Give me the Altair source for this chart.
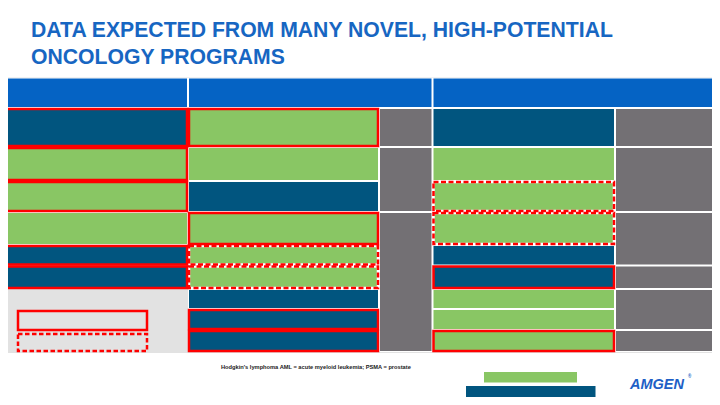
import altair as alt
import pandas as pd

# ---------------- data ----------------
title_lines = ["DATA EXPECTED FROM MANY NOVEL, HIGH-POTENTIAL", "ONCOLOGY PROGRAMS"]
footnote = "Hodgkin's lymphoma AML = acute myeloid leukemia; PSMA = prostate"
logo_text = "AMGEN"
logo_mark = "®"

header_cols = ["H1", "H2", "H3"]

# table cells: column, first row, last row, fill kind, outline kind
cell_col = ["A", "A", "A", "A", "A", "A",
            "B", "B", "B", "B", "B", "B", "B", "B", "B",
            "C", "C", "C",
            "D", "D", "D", "D", "D", "D", "D", "D", "D",
            "E", "E", "E", "E", "E", "E"]
cell_r0 = [0, 1, 2, 3, 4, 5,
           0, 1, 2, 3, 4, 5, 6, 7, 8,
           0, 1, 3,
           0, 1, 2, 3, 4, 5, 6, 7, 8,
           0, 1, 3, 5, 6, 8]
cell_r1 = [0, 1, 2, 3, 4, 5,
           0, 1, 2, 3, 4, 5, 6, 7, 8,
           0, 2, 8,
           0, 1, 2, 3, 4, 5, 6, 7, 8,
           0, 2, 4, 5, 7, 8]
cell_kind = ["dark", "green", "green", "green", "dark", "dark",
             "green", "green", "dark", "green", "green", "green", "dark", "dark", "dark",
             "gray", "gray", "gray",
             "dark", "green", "green", "green", "dark", "dark", "green", "green", "green",
             "gray", "gray", "gray", "gray", "gray", "gray"]
cell_line = ["solid", "solid", "solid", "none", "solid", "solid",
             "solid", "none", "none", "solid", "dashed", "dashed", "none", "solid", "solid",
             "none", "none", "none",
             "none", "none", "dashed", "dashed", "none", "solid", "none", "none", "solid",
             "none", "none", "none", "none", "none", "none"]

legend_box_line = ["solid", "dashed"]
legend_bar_kind = ["green", "dark"]

# ---------------- layout (positions / styles) ----------------
COL_EDGES = {"A": (3, 188), "B": (188, 379), "C": (379, 432.5),
             "D": (432.5, 615), "E": (615, 716)}
ROW_EDGES = [108, 147, 181, 212, 245, 265.5, 289, 309, 330, 352]
HEADER_EDGES = {"H1": (3, 188), "H2": (188, 432.5), "H3": (432.5, 716)}
HEADER_Y = (77.5, 108)
LEGEND_BOX_Y = [(311, 330), (334, 351)]
LEGEND_BOX_X = (18, 147)
LEGEND_BAR = {"green": ((484, 577), (372, 382.5)), "dark": ((466, 595.5), (386, 397))}
INSET = 1

COLORS = {"dark": "#01557F", "green": "#89C664", "gray": "#737074",
          "header": "#0563C4", "light": "#E2E2E2", "white": "#FFFFFF"}
RED = "#FF0000"
TITLE_BLUE = "#1766C2"

# the page has an 8px margin; the chart spans screen x 8..712, y 8..397
X0, X1, Y0, Y1 = 8, 712, 8, 397
W, H = X1 - X0, Y1 - Y0
xs = alt.X("x:Q", scale=alt.Scale(domain=[X0, X1], nice=False, zero=False), axis=None)
ys = alt.Y("y:Q", scale=alt.Scale(domain=[Y0, Y1], nice=False, zero=False, reverse=True), axis=None)
fill_scale = alt.Scale(domain=list(COLORS.keys()), range=list(COLORS.values()))

# background blocks
bg = pd.DataFrame([
    {"x": 0, "x2": 720, "y": 77, "y2": 353, "kind": "light"},
    {"x": 3, "x2": 716, "y": 77.5, "y2": 289, "kind": "white"},
    {"x": 188, "x2": 716, "y": 289, "y2": 352, "kind": "white"},
])

hdr = pd.DataFrame([
    {"x": HEADER_EDGES[h][0] + INSET, "x2": HEADER_EDGES[h][1] - INSET,
     "y": HEADER_Y[0] + INSET, "y2": HEADER_Y[1] - INSET, "kind": "header"}
    for h in header_cols
])

cells = pd.DataFrame([
    {"x": COL_EDGES[c][0] + INSET, "x2": COL_EDGES[c][1] - INSET,
     "y": ROW_EDGES[r0] + INSET, "y2": ROW_EDGES[r1 + 1] - INSET,
     "kind": k, "line": ln}
    for c, r0, r1, k, ln in zip(cell_col, cell_r0, cell_r1, cell_kind, cell_line)
])

boxes = pd.DataFrame([
    {"x": LEGEND_BOX_X[0], "x2": LEGEND_BOX_X[1], "y": yy[0], "y2": yy[1], "line": ln}
    for ln, yy in zip(legend_box_line, LEGEND_BOX_Y)
])

bars = pd.DataFrame([
    {"x": LEGEND_BAR[k][0][0], "x2": LEGEND_BAR[k][0][1],
     "y": LEGEND_BAR[k][1][0], "y2": LEGEND_BAR[k][1][1], "kind": k}
    for k in legend_bar_kind
])


def fill_layer(df):
    return alt.Chart(df).mark_rect(strokeWidth=0).encode(
        x=xs, x2="x2:Q", y=ys, y2="y2:Q",
        fill=alt.Fill("kind:N", scale=fill_scale, legend=None))


def outline(df, color, width, dash=None):
    kw = dict(fillOpacity=0, stroke=color, strokeWidth=width)
    if dash:
        kw["strokeDash"] = dash
    return alt.Chart(df).mark_rect(**kw).encode(x=xs, x2="x2:Q", y=ys, y2="y2:Q")


solid_cells = cells[cells.line == "solid"]
dashed_cells = cells[cells.line == "dashed"]

layers = [
    fill_layer(bg),
    fill_layer(hdr),
    fill_layer(cells),
    outline(dashed_cells, "#FFFFFF", 2.5),
    outline(dashed_cells, RED, 2.5, [5, 2.5]),
    outline(solid_cells, RED, 2.5),
    outline(boxes[boxes.line == "solid"], RED, 2.5),
    outline(boxes[boxes.line == "dashed"], RED, 2.5, [4.5, 2.5]),
    fill_layer(bars),
]

texts = [
    dict(x=31, y=37, t=title_lines[0], size=21.2, color=TITLE_BLUE, style="normal"),
    dict(x=31, y=64, t=title_lines[1], size=21.2, color=TITLE_BLUE, style="normal"),
    dict(x=221, y=369, t=footnote, size=5.7, color="#222222", style="normal"),
    dict(x=630, y=389, t=logo_text, size=14.5, color="#1E5FC6", style="italic"),
    dict(x=688, y=378, t=logo_mark, size=4.5, color="#1E5FC6", style="normal"),
]

for r in texts:
    layers.append(
        alt.Chart(pd.DataFrame([{"x": r["x"], "y": r["y"], "t": r["t"]}])).mark_text(
            align="left", baseline="alphabetic", font="Liberation Sans",
            fontWeight="bold", fontSize=r["size"], color=r["color"],
            fontStyle=r["style"]
        ).encode(x=xs, y=ys, text="t:N")
    )

chart = alt.layer(*layers).properties(
    width=W, height=H, autosize=alt.AutoSizeParams(type="none"),
    padding=0, background="white"
).configure_view(strokeOpacity=0)

chart.save("out.html", embed_options={"renderer": "svg", "actions": False})
